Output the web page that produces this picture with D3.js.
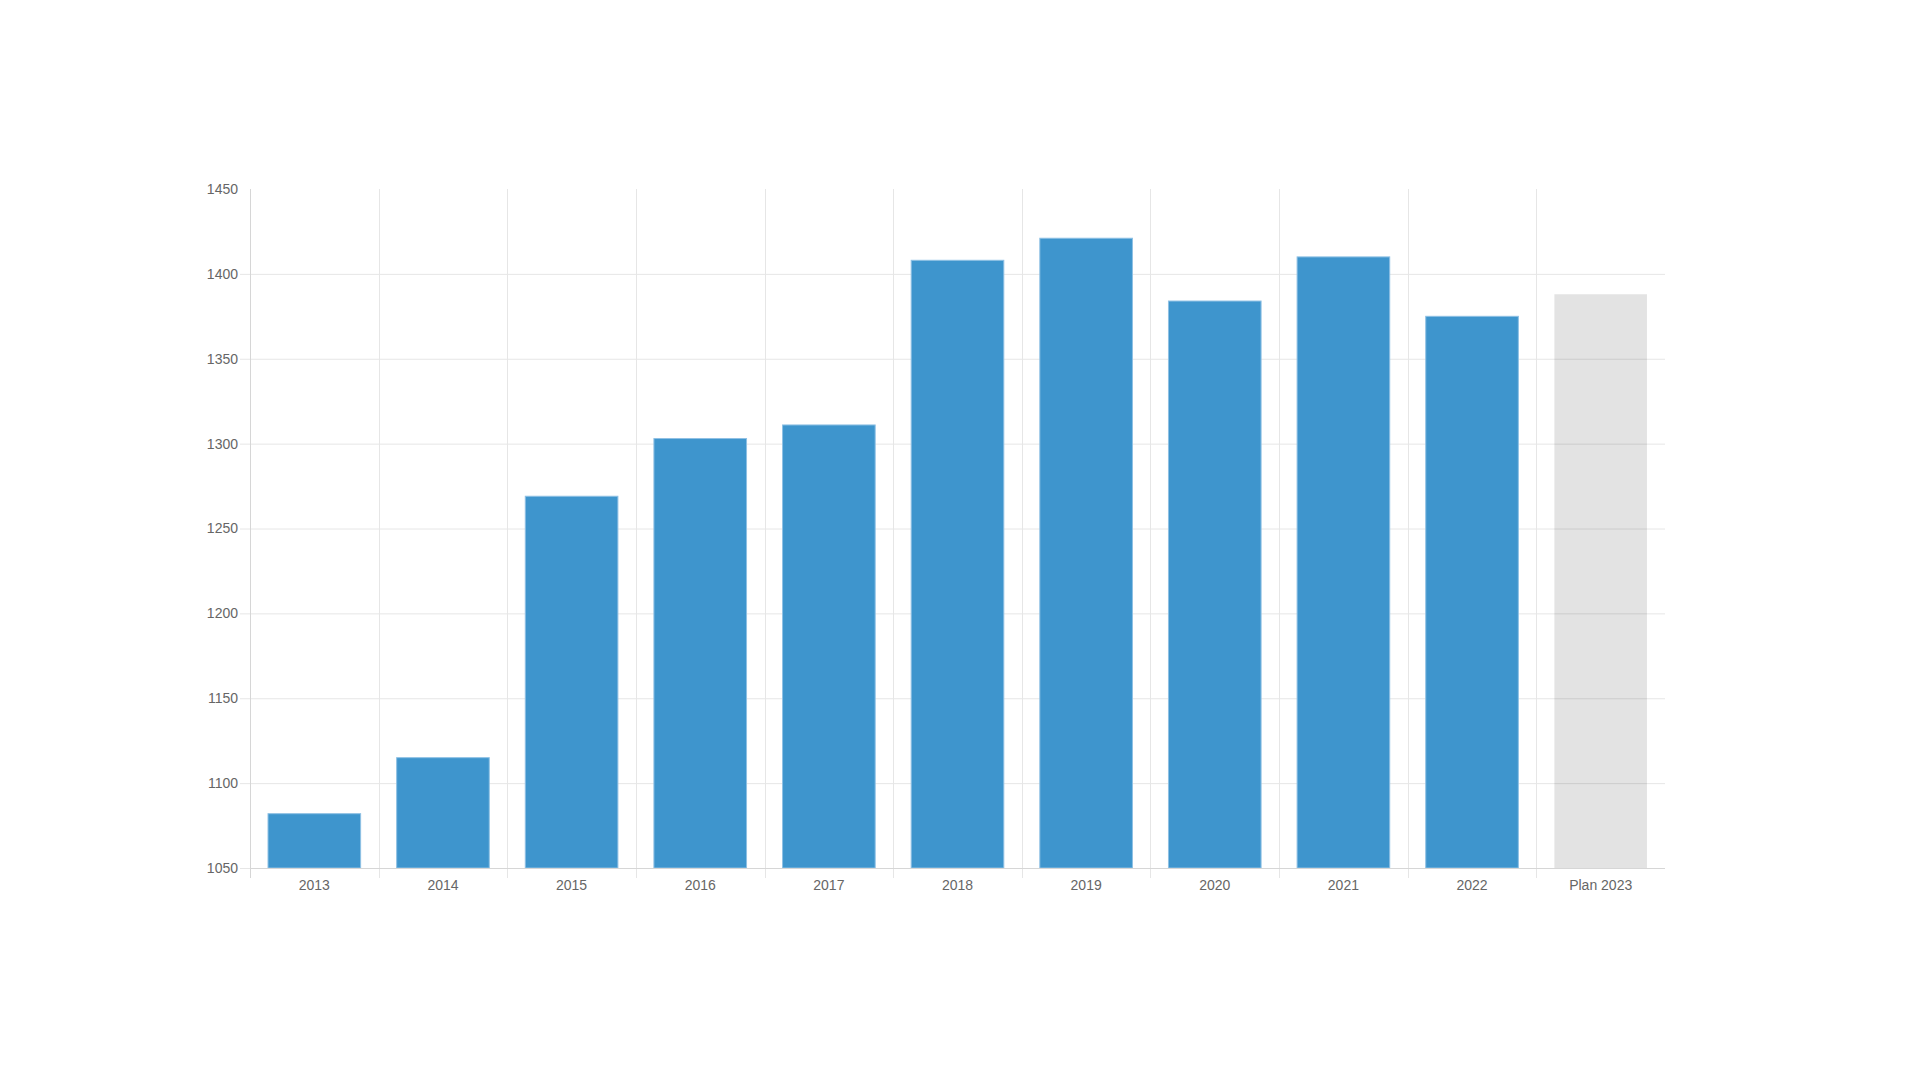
<!DOCTYPE html>
<html>
<head>
<meta charset="utf-8">
<script src="https://cdn.jsdelivr.net/npm/d3@7"></script>
<style>
  body { margin: 0; background: #fff; }
  .axis text { font-family: "Liberation Sans", Arial, sans-serif; font-size: 14px; fill: #666; }
</style>
</head>
<body>
<div class="chart-container"></div>
<script>
const categories = ["2013", "2014", "2015", "2016", "2017", "2018", "2019", "2020", "2021", "2022", "Plan 2023"];
const values = [1082, 1115, 1269, 1303, 1311, 1408, 1421, 1384, 1410, 1375, 1388];
const yTicks = [1050, 1100, 1150, 1200, 1250, 1300, 1350, 1400, 1450];
const planCategory = "Plan 2023";

const svg_width = 1920;
const svg_height = 1080;
const chart_margin = {top: 189, right: 255, bottom: 212, left: 250};
const chart_width = svg_width - (chart_margin.left + chart_margin.right);
const chart_height = svg_height - (chart_margin.top + chart_margin.bottom);

const svg = d3.select('.chart-container').append('svg')
    .attr('width', svg_width).attr('height', svg_height);
const g = svg.append('g')
    .attr('transform', `translate(${chart_margin.left},${chart_margin.top})`);

const xScale = d3.scaleBand().domain(categories).range([0, chart_width]);
const yScale = d3.scaleLinear([1050, 1450], [chart_height, 0]);

// horizontal grid + y labels
const yAxis = d3.axisLeft(yScale).tickValues(yTicks)
    .tickFormat(d3.format('d'))
    .tickSizeInner(-(chart_width + 10)).tickSizeOuter(0).tickPadding(2);
const yAxisDraw = g.append('g').attr('class', 'y axis')
    .attr('transform', 'translate(-10,0)')
    .call(yAxis);
yAxisDraw.select('.domain').remove();
yAxisDraw.selectAll('line').attr('stroke', '#e6e6e6');
// no gridline at the top edge, only the label
yAxisDraw.selectAll('.tick').filter(d => d === 1450).select('line').remove();

// vertical grid at band edges (chart.js style offset grid)
g.append('g').attr('class', 'x grid')
    .selectAll('line')
    .data(categories)
    .join('line')
    .attr('x1', d => Math.round(xScale(d)) + 0.5)
    .attr('x2', d => Math.round(xScale(d)) + 0.5)
    .attr('y1', 0)
    .attr('y2', chart_height + 10)
    .attr('stroke', (d, i) => i === 0 ? '#d6d6d6' : '#e6e6e6');

// x labels
const xAxis = d3.axisBottom(xScale).tickSize(0).tickPadding(12);
const xAxisDraw = g.append('g').attr('class', 'x axis')
    .attr('transform', `translate(0,${chart_height})`)
    .call(xAxis);
xAxisDraw.select('.domain').remove();

// bars
const barW = xScale.bandwidth() * 0.72;
g.append('g').attr('class', 'bars')
    .selectAll('rect')
    .data(categories)
    .join('rect')
    .attr('x', d => xScale(d) + (xScale.bandwidth() - barW) / 2)
    .attr('y', (d, i) => yScale(values[i]))
    .attr('width', barW)
    .attr('height', (d, i) => chart_height - yScale(values[i]))
    .style('fill', d => d === planCategory ? 'rgba(0,0,0,0.11)' : '#3e95cd')
    .style('stroke', d => d === planCategory ? 'none' : '#8ec0e4')
    .style('stroke-width', 1);

// bottom axis line
g.append('line')
    .attr('x1', 0).attr('x2', chart_width)
    .attr('y1', chart_height + 0.5).attr('y2', chart_height + 0.5)
    .attr('stroke', '#d6d6d6');
</script>
</body>
</html>
